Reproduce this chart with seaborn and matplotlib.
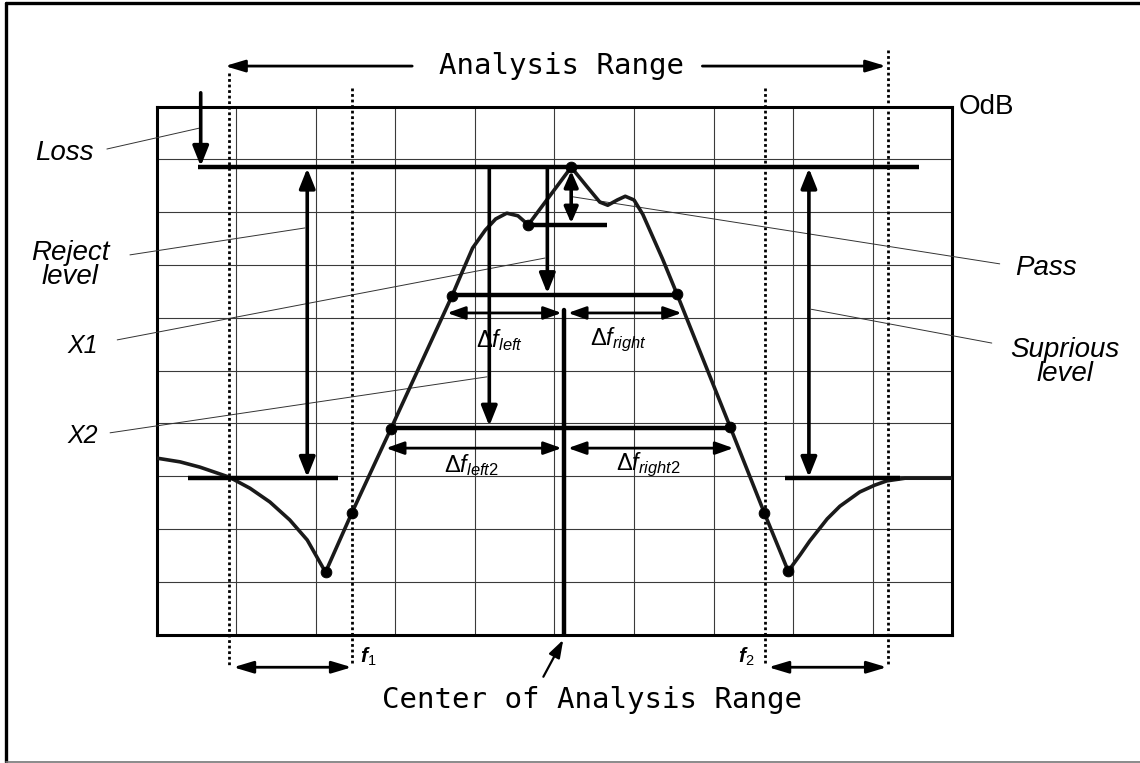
"""
Filter analysis diagram
Pass / reject / spurious levels over an analysis range
"""

import matplotlib
matplotlib.use("Agg")
import matplotlib.pyplot as plt
import seaborn as sns

sns.set_theme(style="whitegrid")
plt.rcParams["font.family"] = ["Liberation Sans", "DejaVu Sans"]
plt.rcParams["text.color"] = "black"
plt.rcParams["mathtext.fontset"] = "custom"
plt.rcParams["mathtext.rm"] = "Liberation Sans"
plt.rcParams["mathtext.it"] = "Liberation Sans:italic"
plt.rcParams["mathtext.bf"] = "Liberation Sans:bold"
plt.rcParams["mathtext.bfit"] = "Liberation Sans:bold:italic"

# ---------------------------------------------
# Data (x in grid divisions, y in dB)
# ---------------------------------------------

trace_x = [0.00, 0.29, 0.54, 0.91, 1.17, 1.42, 1.67, 1.89, 2.12, 2.45,
           2.94, 3.71, 3.84, 3.97, 4.13, 4.26, 4.40, 4.54, 4.67, 5.21,
           5.41, 5.57, 5.67, 5.79, 5.89, 6.00, 6.11, 6.36, 6.54, 7.21,
           7.64, 7.94, 8.09, 8.21, 8.43, 8.59, 8.84, 9.03, 9.18, 9.41,
           10.00]
trace_db = [-66.6, -67.3, -68.3, -70.2, -72.3, -74.9, -78.3, -82.1, -88.2, -77.0,
            -61.1, -35.9, -31.3, -26.8, -23.4, -21.3, -20.2, -20.7, -22.4, -11.5,
            -15.2, -18.1, -18.7, -17.7, -17.0, -17.7, -20.4, -28.9, -35.5, -60.7,
            -77.0, -88.0, -84.9, -82.3, -78.1, -75.7, -73.0, -71.7, -70.9, -70.4,
            -70.4]

marker_x = [2.12, 2.45, 2.94, 3.71, 4.67, 5.21, 6.54, 7.21, 7.64, 7.94]
marker_db = [-88.2, -77.0, -61.1, -35.9, -22.4, -11.5, -35.5, -60.7, -77.0, -88.0]

peak_db = -11.5
pass_db = -22.4
x1_db = -35.7
x2_db = -60.8
reject_db = -70.4

analysis_start, analysis_stop = 0.906, 9.19
f1, f2 = 2.45, 7.65
center_x = 5.12

# level lines: (x start, x stop, level)
level_lines = [
    (0.52, 9.58, peak_db),
    (4.67, 5.66, pass_db),
    (3.71, 6.54, x1_db),
    (2.94, 7.21, x2_db),
    (0.39, 2.28, reject_db),
    (7.90, 9.35, reject_db),
]

# ---------------------------------------------
# Figure / grid
# ---------------------------------------------

fig = plt.figure(figsize=(11.4, 7.63), dpi=100)
fig.patch.set_facecolor("white")
ax = fig.add_axes([0.1377, 0.1684, 0.6974, 0.6920])
ax.set_facecolor("white")
ax.set_xlim(0, 10)
ax.set_ylim(-100, 0)
ax.set_xticks(range(11))
ax.set_yticks(range(-100, 1, 10))
ax.tick_params(labelbottom=False, labelleft=False, length=0)
ax.grid(True, color="#3a3a3a", lw=0.8)
for spine in ax.spines.values():
    spine.set_visible(True)
    spine.set_color("black")
    spine.set_linewidth(2.2)

# page frame: top and left black, bottom thin grey
fig.add_artist(plt.Line2D([6 / 1140, 1], [1 - 3 / 763, 1 - 3 / 763],
                          transform=fig.transFigure, color="black", lw=2.4))
fig.add_artist(plt.Line2D([6 / 1140, 6 / 1140], [1 - 3 / 763, 1 / 763],
                          transform=fig.transFigure, color="black", lw=2.4))
fig.add_artist(plt.Line2D([6 / 1140, 1], [1 / 763, 1 / 763],
                          transform=fig.transFigure, color="#777777", lw=1.2))

# ---------------------------------------------
# Trace and markers
# ---------------------------------------------

sns.lineplot(x=trace_x, y=trace_db, sort=False, estimator=None,
             color="#1a1a1a", lw=2.6, ax=ax, zorder=4)
sns.scatterplot(x=marker_x, y=marker_db, s=60, color="black",
                edgecolor=None, ax=ax, zorder=6)

for x0, x1, y in level_lines:
    ax.plot([x0, x1], [y, y], color="black", lw=3.2, zorder=5,
            solid_capstyle="butt")

ax.plot([center_x, center_x], [-38.5, -100], color="black", lw=3.2, zorder=5)


def arrow(x0, y0, x1, y1, both=False, lw=2.6, hl=1.0, hw=0.4):
    style = ("<|-|>" if both else "-|>") + f",head_length={hl},head_width={hw}"
    ax.annotate("", xy=(x1, y1), xytext=(x0, y0), annotation_clip=False,
                arrowprops=dict(arrowstyle=style, color="black", lw=lw,
                                shrinkA=0, shrinkB=0, mutation_scale=12),
                zorder=7)


def leader(x0, y0, x1, y1):
    ax.plot([x0, x1], [y0, y1], color="#333333", lw=0.7, clip_on=False, zorder=3)


# ---------------------------------------------
# Level arrows
# ---------------------------------------------

arrow(0.55, 2.6, 0.55, -11.3)                         # loss
arrow(1.89, -11.7, 1.89, -70.2, both=True)            # reject level
arrow(8.20, -11.7, 8.20, -70.2, both=True)            # spurious level
arrow(4.91, -11.5, 4.91, x1_db + 0.3)                 # X1
arrow(4.18, -11.5, 4.18, x2_db + 0.3)                 # X2
arrow(5.21, -12.2, 5.21, pass_db + 0.3, both=True, hl=0.8, hw=0.35)

arrow(3.65, -39.1, 5.09, -39.1, both=True, lw=2, hl=0.9, hw=0.32)
arrow(5.17, -39.1, 6.60, -39.1, both=True, lw=2, hl=0.9, hw=0.32)
arrow(2.88, -64.7, 5.09, -64.7, both=True, lw=2, hl=0.9, hw=0.32)
arrow(5.17, -64.7, 7.25, -64.7, both=True, lw=2, hl=0.9, hw=0.32)

# ---------------------------------------------
# Analysis range markers
# ---------------------------------------------

for x, top in [(analysis_start, 6.3), (f1, 3.5), (f2, 3.5), (analysis_stop, 10.7)]:
    ax.plot([x, x], [top, -105.8], color="black", lw=2, ls=(0, (1, 1)),
            clip_on=False, zorder=3)

arrow(3.21, 7.66, 0.855, 7.66, lw=2, hl=1.0, hw=0.3)
arrow(6.86, 7.66, 9.17, 7.66, lw=2, hl=1.0, hw=0.3)
arrow(0.96, -106.2, 2.45, -106.2, both=True, lw=2, hl=1.0, hw=0.3)
arrow(7.69, -106.2, 9.18, -106.2, both=True, lw=2, hl=1.0, hw=0.3)
arrow(4.86, -108.0, 5.11, -101.0, lw=1.6, hl=0.9, hw=0.3)

# ---------------------------------------------
# Labels
# ---------------------------------------------

mono = dict(family="DejaVu Sans Mono", fontsize=21, ha="center", va="center")
ax.text(5.09, 7.7, "Analysis Range", **mono)
ax.text(5.47, -112.4, "Center of Analysis Range", **mono)

ax.text(10.08, -0.1, "OdB", fontsize=20, ha="left", va="center")

ital = dict(style="italic", fontsize=20, ha="center", va="center",
            linespacing=0.9, multialignment="center")
ax.text(-1.16, -8.8, "Loss", **ital)
ax.text(-1.09, -30.0, "Reject\nlevel", **ital)
ax.text(11.18, -30.6, "Pass", **ital)
ax.text(11.42, -48.4, "Suprious\nlevel", **ital)
ax.text(-0.93, -45.4, "X1", style="italic", fontsize=18, ha="center", va="center")
ax.text(-0.93, -62.4, "X2", style="italic", fontsize=18, ha="center", va="center")

leader(-0.63, -8.05, 0.54, -4.07)
leader(-0.34, -28.1, 1.86, -23.0)
leader(-0.50, -44.2, 4.88, -28.7)
leader(-0.59, -61.8, 4.15, -51.2)
leader(5.23, -17.1, 10.60, -29.8)
leader(8.23, -38.4, 10.50, -44.8)

delta = dict(fontsize=17, ha="center", va="center")
ax.text(4.31, -44.2, r"Δ$f_{left}$", **delta)
ax.text(5.81, -44.2, r"Δ$f_{right}$", **delta)
ax.text(3.96, -67.9, r"Δ$f_{left2}$", **delta)
ax.text(6.18, -67.9, r"Δ$f_{right2}$", **delta)

ax.text(2.55, -104.3, r"$\mathbfit{f}_{1}$", fontsize=15, ha="left", va="center")
ax.text(7.52, -104.3, r"$\mathbfit{f}_{2}$", fontsize=15, ha="right", va="center")

fig.savefig("out.png", dpi=100)
plt.close(fig)
